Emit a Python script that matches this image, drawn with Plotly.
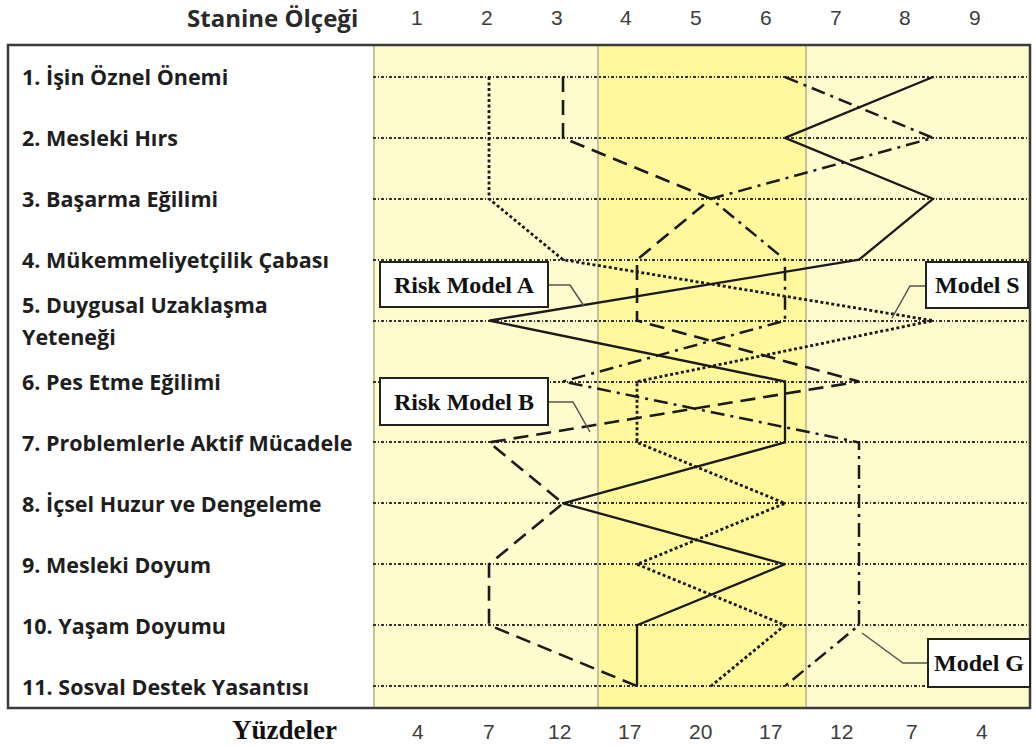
import plotly.graph_objects as go

# ---------------- data ----------------
stanine_labels = ["1", "2", "3", "4", "5", "6", "7", "8", "9"]
stanine_ticks = [1, 2, 3, 4, 5, 6, 7, 8, 9]
percent_labels = ["4", "7", "12", "17", "20", "17", "12", "7", "4"]

scales = [
    "1. İşin Öznel Önemi",
    "2. Mesleki Hırs",
    "3. Başarma Eğilimi",
    "4. Mükemmeliyetçilik Çabası",
    "5. Duygusal Uzaklaşma Yeteneği",
    "6. Pes Etme Eğilimi",
    "7. Problemlerle Aktif Mücadele",
    "8. İçsel Huzur ve Dengeleme",
    "9. Mesleki Doyum",
    "10. Yaşam Doyumu",
    "11. Sosval Destek Yasantısı",
]
rows = [1, 2, 3, 4, 5, 6, 7, 8, 9, 10, 11]

risk_model_a = [8, 6, 8, 7, 2, 6, 6, 3, 6, 4, 4]   # solid
risk_model_b = [3, 3, 5, 4, 4, 7, 2, 3, 2, 2, 4]   # dashed
model_s = [2, 2, 2, 3, 8, 4, 4, 6, 4, 6, 5]        # dotted
model_g = [6, 8, 5, 6, 6, 3, 7, 7, 7, 7, 6]        # dash-dot

# ---------------- layout helpers (pixel -> paper) ----------------
W, H = 1036, 746
L, R, T, B = 8, 6, 45, 38
PW, PH = W - L - R, H - T - B


def px(p):
    return (p - L) / PW


def py(p):
    return 1 - (p - T) / PH


INK = "#1a1a1a"

fig = go.Figure()

fig.add_trace(go.Scatter(x=model_s, y=rows, mode="lines", name="Model S",
                         line=dict(color=INK, width=2.8, dash="3px,2.5px")))
fig.add_trace(go.Scatter(x=model_g, y=rows, mode="lines", name="Model G",
                         line=dict(color=INK, width=2.5, dash="14px,6px,3px,6px")))
fig.add_trace(go.Scatter(x=risk_model_b, y=rows, mode="lines", name="Risk Model B",
                         line=dict(color=INK, width=2.6, dash="15px,8px")))
fig.add_trace(go.Scatter(x=risk_model_a, y=rows, mode="lines", name="Risk Model A",
                         line=dict(color=INK, width=2.3)))

shapes = []
# central (4-6) band
shapes.append(dict(type="rect", xref="paper", yref="paper", x0=px(598), x1=px(806),
                   y0=0, y1=1, fillcolor="#FFF89C", line=dict(width=0), layer="below"))
for xp in (374, 598, 806):
    shapes.append(dict(type="line", xref="paper", yref="paper", x0=px(xp), x1=px(xp),
                       y0=0, y1=1, line=dict(color="#A8A48A", width=1.3), layer="below"))
# outer frame
shapes.append(dict(type="rect", xref="paper", yref="paper", x0=0, x1=1, y0=0, y1=1,
                   line=dict(color="#3a3a3a", width=2.5), fillcolor="rgba(0,0,0,0)", layer="above"))

# callout boxes: (text, x0, x1, y0, y1, leader points)
callouts = [
    ("Risk Model A", 380, 548, 262, 307, [(549, 285), (570, 285), (584, 306)]),
    ("Risk Model B", 380, 548, 378, 425, [(549, 402), (573, 402), (590, 432)]),
    ("Model S", 926, 1028, 262, 308, [(925, 286), (910, 286), (892, 318)]),
    ("Model G", 928, 1030, 639, 687, [(927, 663), (903, 663), (862, 633)]),
]
annotations = []
for text, x0, x1, y0, y1, pts in callouts:
    shapes.append(dict(type="rect", xref="paper", yref="paper", x0=px(x0), x1=px(x1),
                       y0=py(y1), y1=py(y0), fillcolor="white",
                       line=dict(color="#222222", width=2), layer="above"))
    path = "M " + " L ".join(f"{px(a):.5f},{py(b):.5f}" for a, b in pts)
    shapes.append(dict(type="path", xref="paper", yref="paper", path=path,
                       line=dict(color="#555555", width=1.5), layer="above"))
    annotations.append(dict(text=f"<b>{text}</b>", xref="paper", yref="paper",
                            x=px((x0 + x1) / 2), y=py((y0 + y1) / 2),
                            xanchor="center", yanchor="middle", showarrow=False,
                            font=dict(family="Liberation Serif", size=24, color="#111111")))

# scale labels on the left
LABEL_FONT = dict(family="Open Sans", size=21.5, color="#1e1e1e")
for r, name in zip(rows, scales):
    if name.startswith("5. "):
        parts = ["5. Duygusal Uzaklaşma", "Yeteneği"]
        for part, shift in zip(parts, (16, -16)):
            annotations.append(dict(text=f"<b>{part}</b>", xref="paper", yref="y",
                                    x=px(20), y=r, yshift=shift, xanchor="left",
                                    yanchor="middle", showarrow=False, font=LABEL_FONT))
    else:
        annotations.append(dict(text=f"<b>{name}</b>", xref="paper", yref="y",
                                x=px(20), y=r, xanchor="left", yanchor="middle",
                                showarrow=False, font=LABEL_FONT))

annotations.append(dict(text="<b>Stanine Ölçeği</b>", xref="paper", yref="paper",
                        x=px(360), y=py(18), xanchor="right", yanchor="middle",
                        showarrow=False, font=dict(family="Open Sans", size=24, color="#2a2a2a")))
annotations.append(dict(text="<b>Yüzdeler</b>", xref="paper", yref="paper",
                        x=px(339), y=py(730), xanchor="right", yanchor="middle",
                        showarrow=False, font=dict(family="Liberation Serif", size=27, color="#111111")))

# stanine (top) and percentage (bottom) scale labels
TICK_FONT = dict(family="Liberation Sans Narrow, Liberation Sans", size=21, color="#3c3c3c")
for s, lab in zip(stanine_ticks, stanine_labels):
    annotations.append(dict(text=lab, xref="paper", yref="paper",
                            x=px(417 + (s - 1) * 69.75), y=py(18), xanchor="center",
                            yanchor="middle", showarrow=False, font=TICK_FONT))
for s, lab in zip(stanine_ticks, percent_labels):
    annotations.append(dict(text=lab, xref="paper", yref="paper",
                            x=px(418 + (s - 1) * 70.5), y=py(731), xanchor="center",
                            yanchor="middle", showarrow=False, font=TICK_FONT))

fig.update_layout(
    width=W, height=H,
    margin=dict(l=L, r=R, t=T, b=B),
    paper_bgcolor="white",
    plot_bgcolor="#FEFBCC",
    showlegend=False,
    shapes=shapes,
    annotations=annotations,
    xaxis=dict(domain=[px(373), 1], range=[0.432, 9.311], showticklabels=False,
               showgrid=False, zeroline=False, ticks="", showline=False, fixedrange=True),
    yaxis=dict(domain=[0, 1], range=[11.36, 0.475], tickmode="array", tickvals=rows,
               showticklabels=False, showgrid=True, gridcolor="#333333", gridwidth=1.6,
               griddash="3px,2px,1.2px,2px", zeroline=False, ticks="", fixedrange=True),
)

fig.write_html("out.html", config={"displayModeBar": False},
               post_script="document.body.style.margin='0px';")
